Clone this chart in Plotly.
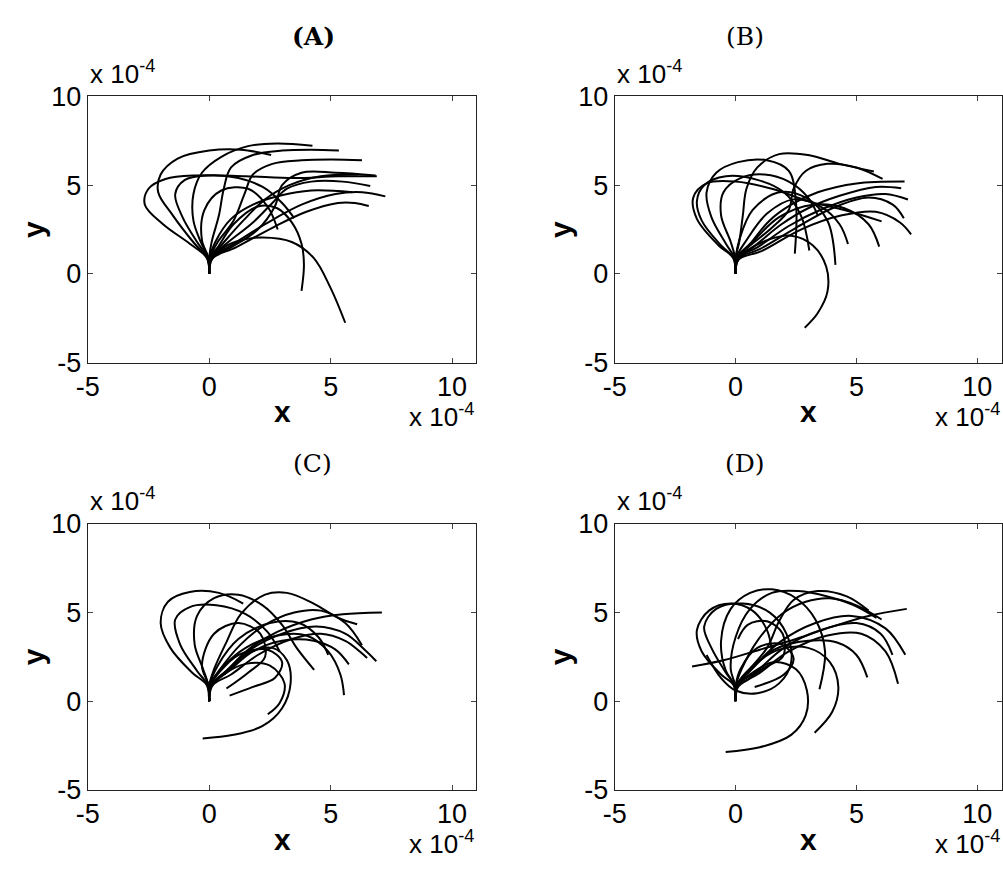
import plotly.graph_objects as go

# ---------------- data (units of 1e-4) ----------------
panel_titles = ["(A)", "(B)", "(C)", "(D)"]
tick_values = [-5, 0, 5, 10]
tick_labels = ["-5", "0", "5", "10"]
x_range = [-5, 11]
y_range = [-5, 10]

curves_a = [
    [(0,0),(-0.1,0.9),(-0.8,1.7),(-1.9,2.8),(-2.65,3.9),(-2.5,4.8),(-1.8,5.35),(-0.5,5.55),(1.5,5.5),(3.5,5.4),(5.3,5.5),(6.9,5.5)],
    [(0,0),(-0.08,0.9),(-0.6,1.7),(-1.5,3.3),(-2.1,4.6),(-2.0,5.6),(-1.3,6.5),(0,6.95),(1.3,7.0),(2.55,6.7)],
    [(0,0),(-0.06,0.9),(-0.5,1.8),(-1.1,3.2),(-1.4,4.5),(-1.0,5.3),(0,5.55),(1.2,5.4),(2.2,4.9),(3.0,4.0),(3.5,3.14)],
    [(0,0),(-0.03,0.9),(-0.3,1.9),(-0.2,3.6),(0.5,4.7),(1.6,4.8),(2.4,3.8),(2.82,2.5)],
    [(0,0),(-0.05,0.9),(-0.35,1.8),(-0.65,3.0),(-0.65,4.5),(-0.3,5.7),(0.5,6.6),(1.6,7.2),(2.8,7.35),(4.25,7.22)],
    [(0,0),(0,0.9),(0.1,1.8),(0.4,3.3),(0.6,4.8),(0.9,6.0),(1.8,6.7),(3.0,6.95),(4.2,7.0),(5.34,6.95)],
    [(0,0),(0.03,0.9),(0.35,1.8),(1.0,3.0),(1.45,4.5),(1.8,5.6),(2.6,6.2),(3.8,6.4),(5.0,6.45),(6.29,6.41)],
    [(0,0),(0.06,0.9),(0.7,1.7),(1.8,2.9),(2.6,4.0),(3.2,4.8),(4.2,5.2),(5.5,5.2),(6.63,4.95)],
    [(0,0),(0.1,0.9),(0.9,1.6),(2.3,2.8),(3.8,3.9),(5.2,4.5),(6.3,4.6),(7.25,4.37)],
    [(0,0),(0.12,0.85),(1.1,1.5),(2.6,2.6),(4.0,3.5),(5.3,4.0),(6.0,4.0),(6.57,3.83)],
    [(0,0),(0.05,0.9),(0.55,1.7),(1.4,3.0),(2.3,4.2),(3.3,5.0),(4.6,5.5),(6.1,5.6)],
    [(0,0),(0.05,0.9),(0.4,1.6),(1.0,2.8),(2.0,3.8),(2.8,3.7),(3.4,2.9),(3.8,1.7),(3.9,0.5),(3.8,-0.95)],
    [(0,0),(0.1,0.8),(0.6,1.5),(1.3,1.9),(2.2,2.05),(3.4,1.8),(4.3,0.9),(5.0,-0.8),(5.6,-2.75)],
    [(0,0),(0.08,0.9),(0.9,1.5),(2.0,2.5),(2.7,3.8),(3.0,5.0),(3.8,5.7),(5.2,5.7),(6.85,5.55)],
    [(0,0),(0.02,0.9),(0.25,1.8),(0.9,3.1),(1.8,3.9),(2.9,4.4),(4.2,4.7),(5.9,4.6)],
]

curves_b = [
    [(0,0),(-0.08,0.9),(-0.6,1.6),(-1.4,3.0),(-1.6,4.1),(-1.3,5.0),(-0.4,5.5),(0.9,5.3),(2.0,4.6),(2.7,3.3),(3.05,1.32)],
    [(0,0),(-0.05,0.9),(-0.4,1.7),(-1.0,3.2),(-1.2,4.6),(-0.8,5.7),(0.1,6.3),(1.3,6.4),(2.2,5.8),(2.5,4.0),(2.45,1.14)],
    [(0,0),(0,0.9),(0.15,1.8),(0.3,3.3),(0.45,4.8),(0.9,6.0),(1.8,6.75),(3.0,6.7),(4.3,6.2),(5.72,5.77)],
    [(0,0),(0.04,0.9),(0.6,1.6),(1.5,2.6),(2.2,3.6),(2.4,4.8),(2.9,5.8),(3.8,6.2),(5.0,6.0),(6.08,5.35)],
    [(0,0),(0.05,0.9),(0.6,1.7),(1.4,3.0),(2.3,3.9),(3.4,4.6),(5.0,5.1),(6.99,5.21)],
    [(0,0),(0.07,0.9),(0.8,1.6),(1.9,2.8),(3.0,3.7),(4.3,4.4),(5.8,4.9),(6.85,4.83)],
    [(0,0),(0.09,0.9),(0.9,1.5),(2.2,2.7),(3.5,3.6),(5.0,4.3),(6.2,4.5),(7.13,4.19)],
    [(0,0),(0.1,0.85),(1.0,1.4),(2.5,2.6),(4.0,3.7),(5.5,4.3),(6.5,3.9),(6.96,3.14)],
    [(0,0),(0.12,0.8),(1.1,1.3),(2.7,2.5),(4.4,3.3),(5.8,3.5),(6.8,2.9),(7.26,2.23)],
    [(0,0),(0.05,0.9),(0.7,1.8),(1.8,3.2),(3.2,3.9),(4.5,3.7),(5.5,2.8),(5.94,1.54)],
    [(0,0),(0.03,0.9),(0.45,1.9),(1.3,3.4),(2.4,4.2),(3.5,3.8),(4.3,2.8),(4.65,1.69)],
    [(0,0),(0.01,0.9),(0.15,1.9),(0.7,3.6),(1.8,4.6),(2.9,4.3),(3.8,3.0),(4.13,0.51)],
    [(0,0),(0.1,0.8),(0.6,1.4),(1.2,1.85),(2.3,2.15),(3.2,1.6),(3.75,0.4),(3.8,-1.0),(3.4,-2.2),(2.86,-3.03)],
    [(0,0),(-0.1,0.9),(-0.7,1.6),(-1.6,3.1),(-1.75,4.3),(-1.2,5.1),(0,5.2),(1.5,4.8),(3.0,4.1),(4.5,3.6),(6.04,2.96)],
    [(0,0),(-0.02,0.9),(-0.2,1.8),(-0.6,3.3),(-0.5,4.6),(0.2,5.4),(1.2,5.6),(2.2,5.2),(3.0,4.3),(3.4,3.3)],
]

curves_c = [
    [(0,0),(-0.1,0.9),(-0.7,1.6),(-1.6,3.0),(-2.0,4.4),(-1.7,5.6),(-0.8,6.15),(0.4,6.1),(1.4,5.5)],
    [(0,0),(-0.07,0.9),(-0.5,1.7),(-1.2,3.2),(-1.4,4.6),(-0.8,5.3),(0.3,5.4),(1.5,4.9),(2.4,3.9),(2.9,2.8)],
    [(0,0),(-0.04,0.9),(-0.25,1.8),(-0.6,3.2),(-0.5,4.8),(0.2,5.8),(1.2,6.0),(2.2,5.4),(3.0,4.3),(3.6,3.0),(4.32,1.76)],
    [(0,0),(0,0.9),(0.2,1.8),(0.7,3.3),(1.3,4.9),(2.3,6.0),(3.2,6.1),(4.3,5.5),(5.3,4.7),(6.09,4.33)],
    [(0,0),(0.03,0.9),(0.45,1.8),(1.3,3.2),(2.3,4.3),(3.5,5.0),(4.6,5.1),(5.6,4.4),(6.29,3.15)],
    [(0,0),(0.06,0.9),(0.7,1.6),(1.7,2.9),(3.0,3.8),(4.4,4.2),(5.6,3.8),(6.4,2.9),(6.88,2.25)],
    [(0,0),(0.1,0.85),(0.9,1.5),(2.0,2.6),(3.4,3.5),(4.6,3.8),(5.6,3.4),(6.2,2.8),(6.5,2.43)],
    [(0,0),(0.08,0.9),(0.8,1.7),(1.8,2.8),(3.0,3.4),(4.3,3.4),(5.2,2.9),(5.75,2.07)],
    [(0,0),(0.04,0.9),(0.55,1.9),(1.5,3.0),(2.8,3.7),(4.0,3.7),(4.9,2.8),(5.4,1.5),(5.55,0.34)],
    [(0,0),(0.07,0.9),(0.7,1.7),(1.6,2.9),(2.8,3.9),(4.2,4.6),(5.5,4.9),(7.11,5.0)],
    [(0,0),(0.08,0.85),(0.7,1.7),(1.6,2.7),(2.6,3.0),(3.2,2.3),(3.35,1.0),(3.0,-0.4),(2.2,-1.4),(1.0,-1.9),(-0.27,-2.1)],
    [(0,0),(0.1,0.8),(0.6,1.5),(1.5,2.1),(2.5,2.0),(3.1,1.0),(2.9,-0.1),(2.41,-0.74)],
    [(0,0),(-0.03,0.9),(-0.3,2.0),(0.2,3.8),(1.2,4.4),(2.1,3.8),(2.3,2.5),(1.6,1.6),(0.71,0.71)],
    [(0,0),(0.05,0.9),(0.4,1.6),(1.2,2.6),(2.4,2.9),(3.0,2.2),(2.7,1.3),(1.8,0.8),(0.84,0.31)],
    [(0,0),(0.02,0.9),(0.35,2.0),(1.2,3.5),(2.5,4.4),(3.7,4.4),(4.5,3.6),(4.9,2.6)],
]

curves_d = [
    [(0,0),(0.08,0.9),(0.7,1.6),(1.6,2.2),(2.5,1.8),(2.95,0.6),(2.9,-0.8),(2.3,-1.9),(1.0,-2.6),(-0.41,-2.86)],
    [(0,0),(0.05,0.9),(0.65,1.9),(1.8,2.9),(3.0,3.0),(3.9,2.2),(4.25,0.8),(4.0,-0.6),(3.27,-1.78)],
    [(0,0),(-0.04,0.9),(-0.4,1.7),(-0.6,3.4),(-0.2,5.2),(0.6,6.1),(1.5,6.3),(2.5,5.8),(3.3,4.6),(3.7,2.8),(3.47,0.67)],
    [(0,0),(0.06,0.9),(0.6,1.7),(1.6,2.9),(3.0,3.4),(4.2,3.3),(5.0,2.6),(5.45,1.34)],
    [(0,0),(0.1,0.85),(0.9,1.5),(2.2,2.8),(3.8,3.7),(5.2,3.8),(6.2,2.8),(6.72,0.98)],
    [(0,0),(0.08,0.9),(0.8,1.6),(2.0,3.0),(3.5,4.0),(5.0,4.4),(6.0,3.8),(6.49,2.61)],
    [(0,0),(0.05,0.9),(0.65,1.8),(1.8,3.3),(3.3,4.4),(4.8,4.8),(6.2,4.1),(7.02,2.61)],
    [(-1.8,1.95),(-0.5,2.3),(1.0,2.9),(2.5,3.5),(4.0,4.2),(5.5,4.8),(7.08,5.2)],
    [(0,0),(-0.02,0.9),(-0.2,1.8),(0.0,3.6),(0.6,5.2),(1.5,6.1),(2.6,6.2),(3.8,5.9),(4.9,5.4),(5.83,4.69)],
    [(0,0),(0.02,0.9),(0.25,1.8),(0.9,3.4),(1.9,4.9),(2.9,5.6),(3.9,5.8),(5.0,5.4),(6.04,4.6)],
    [(0,0),(-0.06,0.9),(-0.4,1.6),(-1.0,3.0),(-1.3,4.2),(-0.8,5.2),(0.3,5.5),(1.4,5.0),(2.1,3.8),(2.3,2.2),(1.8,1.0),(0.9,0.45),(0,0.6),(-0.6,1.3),(-1.2,2.6)],
    [(0,0),(0.01,0.9),(0.2,1.8),(0.9,3.0),(1.9,3.2),(2.4,2.4),(2.0,1.5),(0.79,0.8)],
    [(0,0),(-0.08,0.9),(-0.6,1.5),(-1.4,2.8),(-1.6,4.0),(-1.1,5.1),(-0.2,5.5),(0.7,5.1),(1.3,4.0),(1.5,2.8)],
    [(0,0),(0.04,0.9),(0.45,1.6),(1.3,3.0),(1.8,4.5),(2.4,5.7),(3.4,6.2),(4.6,5.9),(5.5,5.1)],
    [(0,0),(0.1,0.8),(0.5,1.2),(1.2,1.9),(1.95,2.5),(1.95,3.8),(1.3,4.5),(0.5,4.3),(0.1,3.5)],
]

all_curves = [curves_a, curves_b, curves_c, curves_d]

# ---------------- layout geometry (pixels) ----------------
W, H = 1003, 877
def px(x): return x / W
def py(y): return 1 - y / H

axes_px = [  # left, right, top, bottom
    (76.7, 470.0, 84.3, 360.0),
    (610.0, 1001.5, 84.3, 360.0),
    (76.7, 470.0, 526.7, 802.3),
    (610.0, 1001.5, 526.7, 802.3),
]
title_pos = [(305, 22, True), (742, 22, False), (304, 464, False), (742, 464, False)]
SANS = "Liberation Sans, Arial, sans-serif"

fig = go.Figure()
layout = dict(
    width=W, height=H, paper_bgcolor="white", plot_bgcolor="white",
    margin=dict(l=0, r=0, t=0, b=0), showlegend=False,
    font=dict(family=SANS, color="black"),
)
annotations = []
for i, curves in enumerate(all_curves):
    n = "" if i == 0 else str(i + 1)
    for c in curves:
        fig.add_trace(go.Scatter(
            x=[p[0] for p in c], y=[p[1] for p in c],
            mode="lines", line=dict(color="black", width=2.0, shape="spline", smoothing=1.0),
            xaxis="x" + n, yaxis="y" + n, hoverinfo="skip"))
    l, r, t, b = axes_px[i]
    common = dict(
        tickvals=tick_values, ticktext=tick_labels, ticks="inside", ticklen=5, tickwidth=1,
        tickcolor="#444", showline=True, linecolor="#222", linewidth=1, mirror="ticks",
        showgrid=False, zeroline=False,
        tickfont=dict(size=27, color="black", family=SANS),
    )
    layout["xaxis" + n] = dict(common, domain=[px(l), px(r)], range=x_range, anchor="y" + n)
    layout["yaxis" + n] = dict(common, domain=[py(b), py(t)], range=y_range, anchor="x" + n)

    tx, ty, bold = title_pos[i]
    title_txt = "<b>" + panel_titles[i] + "</b>" if bold else panel_titles[i]
    annotations.append(dict(x=px(tx), y=py(ty), xref="paper", yref="paper", text=title_txt,
        showarrow=False, xanchor="center", yanchor="middle",
        font=dict(family="DejaVu Serif, serif", size=25, color="black")))
    annotations.append(dict(x=px((l + r) / 2), y=py(b + 51), xref="paper", yref="paper",
        text="<b>x</b>", showarrow=False, xanchor="center", yanchor="middle",
        font=dict(size=30, color="black", family=SANS)))
    annotations.append(dict(x=px(l - 55), y=py((t + b) / 2), xref="paper", yref="paper",
        text="<b>y</b>", showarrow=False, xanchor="center", yanchor="middle", textangle=-90,
        font=dict(size=30, color="black", family=SANS)))
    annotations.append(dict(x=px(r), y=py(b + 74), xref="paper", yref="paper",
        text="x 10<sup>-4</sup>", showarrow=False, xanchor="right", yanchor="bottom",
        font=dict(size=26, color="black", family=SANS)))
    annotations.append(dict(x=px(l), y=py(t - 6), xref="paper", yref="paper",
        text="x 10<sup>-4</sup>", showarrow=False, xanchor="left", yanchor="bottom",
        font=dict(size=26, color="black", family=SANS)))

layout["annotations"] = annotations
fig.update_layout(**layout)
fig.write_html(
    "out.html",
    config={"displayModeBar": False, "staticPlot": True},
    post_script="document.body.style.margin='0';document.body.style.padding='0';"
                "document.body.style.overflow='hidden';",
)
